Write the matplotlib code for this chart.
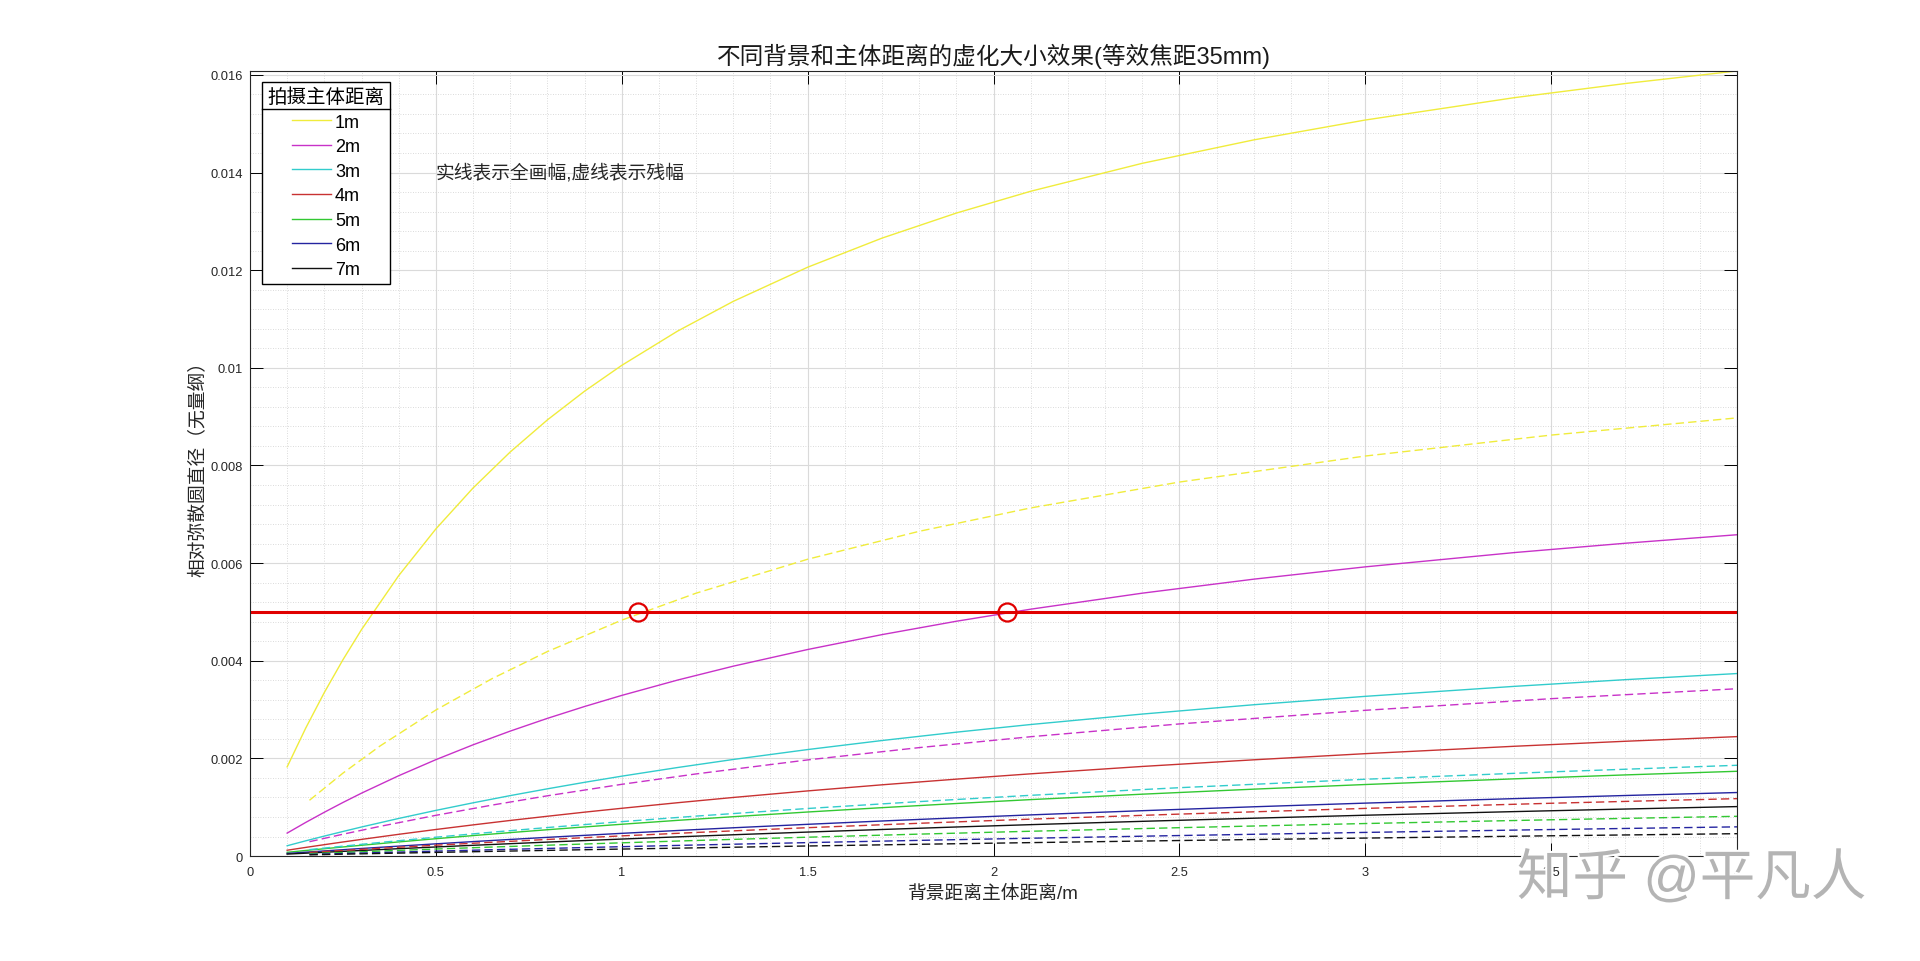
import matplotlib.pyplot as plt
from matplotlib.ticker import MultipleLocator
from matplotlib.lines import Line2D
import matplotlib.patheffects as pe

plt.rcParams['font.family'] = ['Liberation Sans', 'Noto Sans CJK SC']
plt.rcParams['axes.unicode_minus'] = False

# subject distances (legend) and line colours
labels = ['1m', '2m', '3m', '4m', '5m', '6m', '7m']
colors = ['#f0ec3c', '#c832c8', '#32cccc', '#c83232', '#32c832', '#2424a0', '#111111']

# background-to-subject distance, full frame (solid) and crop (dashed)
x_full = [0.1, 0.15, 0.2, 0.25, 0.3, 0.4, 0.5, 0.6, 0.7, 0.8, 0.9, 1.0,
          1.15, 1.3, 1.5, 1.7, 1.9, 2.1, 2.4, 2.7, 3.0, 3.4, 3.7, 4.0]
x_crop = [0.16, 0.25, 0.35, 0.5, 0.65, 0.8, 1.0, 1.2, 1.5, 1.8, 2.1, 2.5, 3.0, 3.5, 4.0]

# full frame blur circle
full_1m = [0.001827, 0.002622, 0.003350, 0.004020, 0.004638, 0.005743, 0.006700, 0.007538,
           0.008276, 0.008933, 0.009521, 0.010050, 0.010751, 0.011361, 0.012060, 0.012656,
           0.013169, 0.013616, 0.014188, 0.014668, 0.015075, 0.015532, 0.015823, 0.016080]
full_2m = [0.000470, 0.000689, 0.000897, 0.001097, 0.001288, 0.001645, 0.001974, 0.002278,
           0.002559, 0.002820, 0.003063, 0.003290, 0.003604, 0.003889, 0.004230, 0.004535,
           0.004809, 0.005056, 0.005384, 0.005671, 0.005923, 0.006215, 0.006407, 0.006581]
full_3m = [0.000211, 0.000312, 0.000409, 0.000503, 0.000595, 0.000770, 0.000935, 0.001090,
           0.001238, 0.001377, 0.001510, 0.001636, 0.001813, 0.001978, 0.002181, 0.002366,
           0.002537, 0.002694, 0.002908, 0.003099, 0.003271, 0.003475, 0.003613, 0.003738]
full_4m = [0.000119, 0.000177, 0.000233, 0.000288, 0.000341, 0.000445, 0.000544, 0.000638,
           0.000729, 0.000815, 0.000899, 0.000978, 0.001092, 0.001200, 0.001334, 0.001459,
           0.001575, 0.001684, 0.001835, 0.001971, 0.002097, 0.002248, 0.002351, 0.002446]
full_5m = [0.0000766, 0.000114, 0.000150, 0.000186, 0.000221, 0.000289, 0.000355, 0.000419,
           0.000480, 0.000539, 0.000596, 0.000651, 0.000731, 0.000806, 0.000902, 0.000991,
           0.001076, 0.001156, 0.001267, 0.001370, 0.001465, 0.001581, 0.001662, 0.001736]
full_6m = [0.0000533, 0.0000793, 0.000105, 0.000130, 0.000155, 0.000203, 0.000250, 0.000296,
           0.000340, 0.000383, 0.000424, 0.000465, 0.000523, 0.000579, 0.000650, 0.000718,
           0.000782, 0.000843, 0.000929, 0.001009, 0.001084, 0.001176, 0.001240, 0.001301]
full_7m = [0.0000392, 0.0000584, 0.0000774, 0.0000960, 0.000114, 0.000151, 0.000186, 0.000220,
           0.000253, 0.000286, 0.000317, 0.000348, 0.000393, 0.000436, 0.000491, 0.000544,
           0.000595, 0.000643, 0.000711, 0.000775, 0.000836, 0.000910, 0.000963, 0.001013]

# crop sensor blur circle
crop_1m = [0.001142, 0.001698, 0.002255, 0.002991, 0.003629, 0.004188, 0.004832, 0.005384,
           0.006079, 0.006651, 0.007130, 0.007660, 0.008193, 0.008622, 0.008974]
crop_2m = [0.000294, 0.000447, 0.000608, 0.000834, 0.001042, 0.001234, 0.001469, 0.001682,
           0.001969, 0.002221, 0.002444, 0.002706, 0.002985, 0.003223, 0.003427]
crop_3m = [0.000132, 0.000202, 0.000278, 0.000386, 0.000488, 0.000584, 0.000705, 0.000818,
           0.000974, 0.001115, 0.001244, 0.001400, 0.001573, 0.001724, 0.001859]
crop_4m = [0.0000746, 0.000115, 0.000159, 0.000222, 0.000282, 0.000340, 0.000413, 0.000483,
           0.000581, 0.000671, 0.000756, 0.000859, 0.000976, 0.001081, 0.001176]
crop_5m = [0.0000479, 0.0000740, 0.000102, 0.000144, 0.000184, 0.000222, 0.000271, 0.000319,
           0.000386, 0.000449, 0.000508, 0.000581, 0.000666, 0.000743, 0.000814]
crop_6m = [0.0000333, 0.0000516, 0.0000715, 0.000101, 0.000129, 0.000156, 0.000192, 0.000226,
           0.000275, 0.000321, 0.000365, 0.000420, 0.000484, 0.000543, 0.000598]
crop_7m = [0.0000245, 0.0000380, 0.0000528, 0.0000744, 0.0000955, 0.000116, 0.000143, 0.000168,
           0.000206, 0.000241, 0.000275, 0.000318, 0.000368, 0.000415, 0.000458]

full_series = [full_1m, full_2m, full_3m, full_4m, full_5m, full_6m, full_7m]
crop_series = [crop_1m, crop_2m, crop_3m, crop_4m, crop_5m, crop_6m, crop_7m]

# threshold line and the two marked crossings
threshold = 0.005
circle_x = [1.045, 2.035]
circle_y = [0.005, 0.005]

fig = plt.figure(figsize=(19.2, 9.62), dpi=100)
ax = fig.add_axes([0.1302, 0.1091, 0.7745, 0.8161])

handles = []
for ys, c in zip(full_series, colors):
    h, = ax.plot(x_full, ys, color=c, lw=1.0)
    handles.append(h)
for ys, c in zip(crop_series, colors):
    ax.plot(x_crop, ys, color=c, lw=1.0, dashes=(6, 3))

ax.axhline(threshold, color='#e00000', lw=2.2)
ax.plot(circle_x, circle_y, 'o', ms=13, mfc='none', mec='#e00000', mew=1.6)

ax.set_xlim(0, 4)
ax.set_ylim(0, max(full_1m))
ax.xaxis.set_major_locator(MultipleLocator(0.5))
ax.xaxis.set_minor_locator(MultipleLocator(0.1))
ax.yaxis.set_major_locator(MultipleLocator(0.002))
ax.yaxis.set_minor_locator(MultipleLocator(0.0004))
ax.xaxis.set_major_formatter(plt.FuncFormatter(lambda v, p: '%g' % v))
ax.yaxis.set_major_formatter(plt.FuncFormatter(lambda v, p: '%g' % round(v, 4)))

ax.grid(True, which='major', color='#dadada', lw=0.8)
ax.grid(True, which='minor', color='#cfcfcf', lw=0.6, ls=(0, (1, 2)))
ax.set_axisbelow(True)
ax.tick_params(which='major', direction='in', length=9.5, width=0.7, top=True, right=True,
               labelsize=9.3, labelcolor='#262626')
ax.tick_params(axis='x', which='major', pad=7.5)
ax.tick_params(axis='y', which='major', pad=5)
ax.tick_params(which='minor', length=0)
for s in ax.spines.values():
    s.set_color('#262626')
    s.set_linewidth(0.8)

ax.set_title('不同背景和主体距离的虚化大小效果(等效焦距35mm)', fontsize=17, pad=6, color='#1a1a1a')
ax.set_xlabel('背景距离主体距离/m', fontsize=13.5, labelpad=4.5, color='#262626')
ax.set_ylabel('相对弥散圆直径（无量纲）', fontsize=13.5, labelpad=2.5, color='#262626')

ax.text(0.5, 0.014, '实线表示全画幅,虚线表示残幅', fontsize=13.5, va='center', color='#262626')

leg = ax.legend(handles, labels, title='拍摄主体距离', loc='upper left',
                bbox_to_anchor=(0.008, 0.986), borderaxespad=0, fontsize=13, title_fontsize=14,
                frameon=True, fancybox=False, edgecolor='black', framealpha=1,
                handlelength=2.2, handletextpad=0.2, labelspacing=0.42, borderpad=0.3)
leg.get_frame().set_linewidth(1.0)

# separator under legend title
fig.canvas.draw()
r = fig.canvas.get_renderer()
fb = leg.get_frame().get_window_extent(r)
tb = leg.get_title().get_window_extent(r)
inv = fig.transFigure.inverted()
(fx0, fy), (fx1, _) = inv.transform([(fb.x0, tb.y0 - 3), (fb.x1, tb.y0 - 3)])
fig.add_artist(Line2D([fx0, fx1], [fy, fy], color='black', lw=1.0))

# watermark
fig.text(0.79, 0.085, '知乎 @平凡人', fontsize=40, color='#b4b4b4', va='center',
         path_effects=[pe.withStroke(linewidth=3, foreground='white')])

fig.savefig('out.png', dpi=100, facecolor='white')
